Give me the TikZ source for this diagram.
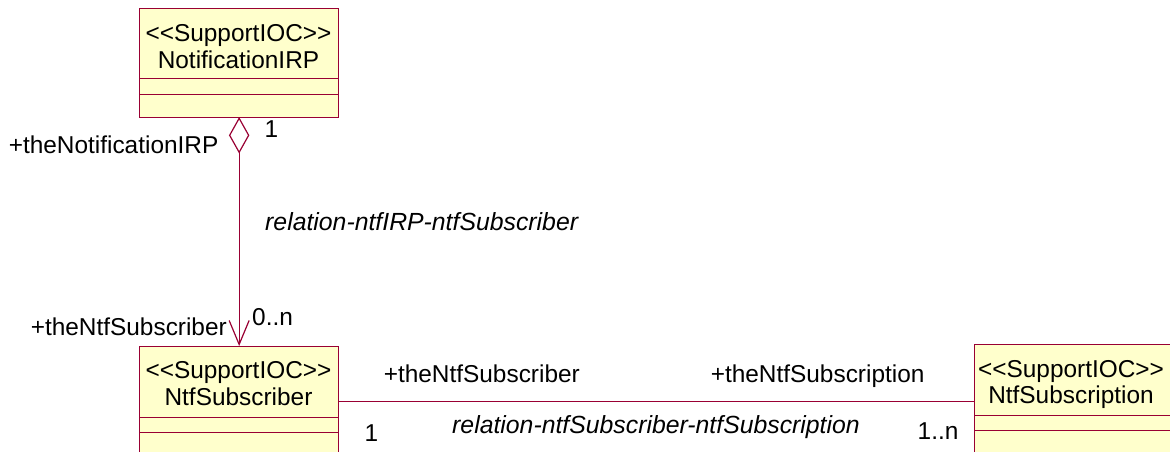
\documentclass[tikz,border=0pt]{standalone}
\usepackage{fontspec}
\setmainfont{Liberation Sans}
\usetikzlibrary{arrows.meta}
\definecolor{umlline}{RGB}{153,0,51}
\definecolor{umlfill}{RGB}{255,255,204}
\begin{document}
\begin{tikzpicture}[x=1pt,y=-1pt,
  umlbox/.style={draw=umlline, fill=umlfill, line width=1.3pt, minimum width=199pt, minimum height=109pt, anchor=north west, inner sep=0pt},
  lbl/.style={font=\fontsize{24.4}{28}\selectfont, inner sep=0pt, anchor=base west},
  ttl/.style={font=\fontsize{24.4}{28}\selectfont, inner sep=0pt, anchor=base},
  rel/.style={font=\fontsize{24.8}{28}\selectfont\itshape, inner sep=0pt, anchor=base west},
  conn/.style={draw=umlline, line width=1.2pt},
  divider/.style={draw=umlline, line width=1pt}]
\clip (0,0) rectangle (1170,452);
\fill[white] (0,0) rectangle (1170,452);

% boxes
\node[umlbox] (nirp) at (139,8) {};
\node[umlbox] (nsub) at (139,346) {};
\node[umlbox] (nsubn) at (974,344) {};

% dividers
\foreach \b in {nirp,nsub,nsubn}{
  \draw[divider] ([yshift=-71pt]\b.north west) -- ([yshift=-71pt]\b.north east);
  \draw[divider] ([yshift=-86pt]\b.north west) -- ([yshift=-86pt]\b.north east);
}

% titles
\node[ttl] (nirpa) at (238.5,42) {<{}<SupportIOC>{}>};
\node[ttl] (nirpb) at (238.5,69) {NotificationIRP};
\node[ttl] (nsuba) at (238.5,378) {<{}<SupportIOC>{}>};
\node[ttl] (nsubb) at (238.5,405) {NtfSubscriber};
\node[ttl] (nsubna) at (1071,377) {<{}<SupportIOC>{}>};
\node[ttl] (nsubnb) at (1071,403) {NtfSubscription};

% aggregation diamond
\coordinate (dtop) at (nirp.south);
\draw[conn, fill=white] (dtop) -- ++(9.5,17) -- ++(-9.5,17) coordinate (dbot) -- ++(-9.5,-17) -- cycle;
\draw[conn, -{Straight Barb[length=24pt,width=20pt]}] (dbot) -- (nsub.north);

% association
\draw[conn] (nsub.east) -- (nsub.east -| nsubn.west);

% labels
\node[lbl] (r1) at (8.6,153) {+theNotificationIRP};
\node[lbl] (m1) at (264.5,137) {1};
\node[rel] (rl1) at (265,230) {relation-ntfIRP-ntfSubscriber};
\node[lbl] (r2) at (30.6,335) {+theNtfSubscriber};
\node[lbl] (m2) at (252,325) {0..n};
\node[lbl] (r3) at (383.6,382) {+theNtfSubscriber};
\node[lbl] (r4) at (710.6,382) {+theNtfSubscription};
\node[rel] (rl2) at (452,433) {relation-ntfSubscriber-ntfSubscription};
\node[lbl] (m3) at (364.5,441) {1};
\node[lbl] (m4) at (917.5,439) {1..n};
\end{tikzpicture}
\end{document}
